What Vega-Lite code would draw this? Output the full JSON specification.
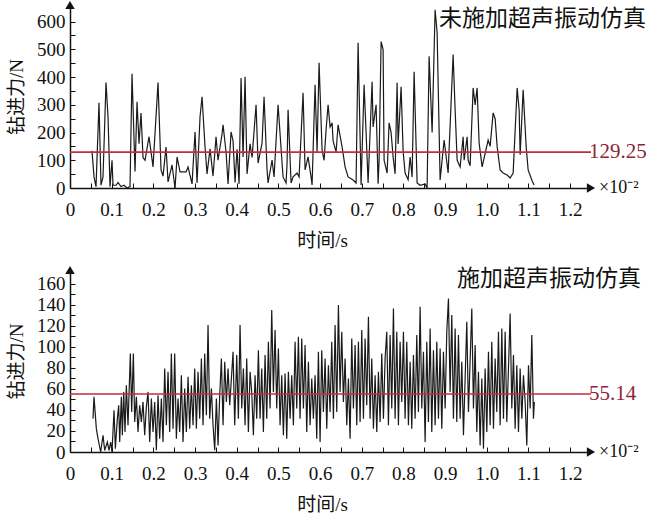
{
  "$schema": "https://vega.github.io/schema/vega-lite/v6.json",
  "padding": {"left": 7, "top": 0, "right": 0, "bottom": 0},
  "spacing": 15,
  "config": {
    "font": "Liberation Serif",
    "view": {"stroke": null},
    "axis": {
      "labelFont": "Liberation Serif, Times New Roman, serif",
      "titleFont": "Liberation Serif, Noto Sans CJK SC",
      "labelFontSize": 19,
      "titleFontSize": 19,
      "titleFontWeight": "normal",
      "labelColor": "#111",
      "titleColor": "#111",
      "domainColor": "#111",
      "tickColor": "#111",
      "domainWidth": 1.5,
      "tickWidth": 1,
      "tickSize": -5,
      "labelOverlap": false,
      "labelFlush": false,
      "grid": false
    },
    "axisX": {"labelPadding": 17, "titlePadding": 12},
    "axisY": {"labelPadding": 10, "titlePadding": 10}
  },
  "datasets": {
    "one": [{"t": 0, "f": 0}],
    "top": [
      {"t":0.0528,"f":134},{"t":0.0576,"f":40},{"t":0.0624,"f":5},{"t":0.0696,"f":307},{"t":0.0744,"f":10},{"t":0.0792,"f":40},{"t":0.0864,"f":380},{"t":0.0912,"f":257},{"t":0.096,"f":5},{"t":0.1008,"f":100},{"t":0.1032,"f":10},{"t":0.1104,"f":10},{"t":0.1152,"f":20},{"t":0.1224,"f":5},{"t":0.1296,"f":10},{"t":0.1368,"f":0},{"t":0.144,"f":5},{"t":0.1488,"f":412},{"t":0.156,"f":60},{"t":0.1608,"f":311},{"t":0.1656,"f":160},{"t":0.1704,"f":270},{"t":0.1752,"f":110},{"t":0.18,"f":100},{"t":0.1896,"f":185},{"t":0.1992,"f":76},{"t":0.2112,"f":380},{"t":0.2184,"f":65},{"t":0.2232,"f":43},{"t":0.2304,"f":148},{"t":0.2352,"f":22},{"t":0.2448,"f":83},{"t":0.252,"f":0},{"t":0.2568,"f":112},{"t":0.264,"f":58},{"t":0.2784,"f":58},{"t":0.2832,"f":76},{"t":0.2928,"f":15},{"t":0.3,"f":202},{"t":0.3048,"f":18},{"t":0.312,"f":257},{"t":0.3168,"f":329},{"t":0.324,"f":148},{"t":0.3288,"f":51},{"t":0.336,"f":141},{"t":0.3432,"f":43},{"t":0.3504,"f":185},{"t":0.3552,"f":100},{"t":0.3648,"f":195},{"t":0.3672,"f":228},{"t":0.3744,"f":130},{"t":0.3792,"f":15},{"t":0.3864,"f":202},{"t":0.3912,"f":170},{"t":0.396,"f":20},{"t":0.4008,"f":140},{"t":0.4056,"f":15},{"t":0.4104,"f":397},{"t":0.4152,"f":112},{"t":0.42,"f":401},{"t":0.4248,"f":51},{"t":0.432,"f":159},{"t":0.4368,"f":110},{"t":0.4464,"f":300},{"t":0.4512,"f":90},{"t":0.4608,"f":162},{"t":0.4656,"f":329},{"t":0.4728,"f":65},{"t":0.4752,"f":18},{"t":0.4848,"f":101},{"t":0.4896,"f":40},{"t":0.4992,"f":300},{"t":0.5088,"f":90},{"t":0.5112,"f":40},{"t":0.5184,"f":18},{"t":0.5208,"f":90},{"t":0.5232,"f":282},{"t":0.5304,"f":18},{"t":0.5352,"f":40},{"t":0.5448,"f":54},{"t":0.5496,"f":40},{"t":0.5592,"f":343},{"t":0.564,"f":65},{"t":0.5712,"f":112},{"t":0.5784,"f":40},{"t":0.5808,"f":11},{"t":0.588,"f":372},{"t":0.5928,"f":130},{"t":0.5976,"f":452},{"t":0.6048,"f":137},{"t":0.6096,"f":100},{"t":0.6144,"f":210},{"t":0.6192,"f":300},{"t":0.624,"f":220},{"t":0.6288,"f":235},{"t":0.6312,"f":170},{"t":0.6384,"f":130},{"t":0.6432,"f":228},{"t":0.6528,"f":148},{"t":0.66,"f":76},{"t":0.6672,"f":40},{"t":0.6792,"f":29},{"t":0.6864,"f":18},{"t":0.6912,"f":524},{"t":0.6984,"f":11},{"t":0.7056,"f":372},{"t":0.7104,"f":199},{"t":0.7152,"f":18},{"t":0.7248,"f":383},{"t":0.7272,"f":220},{"t":0.7344,"f":300},{"t":0.7392,"f":15},{"t":0.7416,"f":100},{"t":0.7464,"f":528},{"t":0.7512,"f":499},{"t":0.7536,"f":100},{"t":0.7608,"f":54},{"t":0.7656,"f":235},{"t":0.7704,"f":200},{"t":0.7752,"f":112},{"t":0.78,"f":51},{"t":0.7848,"f":380},{"t":0.7872,"f":159},{"t":0.7944,"f":365},{"t":0.7992,"f":133},{"t":0.804,"f":54},{"t":0.8112,"f":30},{"t":0.816,"f":112},{"t":0.8208,"f":40},{"t":0.8256,"f":419},{"t":0.8328,"f":18},{"t":0.84,"f":10},{"t":0.852,"f":15},{"t":0.8568,"f":0},{"t":0.8616,"f":475},{"t":0.8688,"f":200},{"t":0.876,"f":643},{"t":0.8808,"f":560},{"t":0.888,"f":29},{"t":0.8976,"f":173},{"t":0.9072,"f":54},{"t":0.9192,"f":481},{"t":0.924,"f":282},{"t":0.9288,"f":101},{"t":0.936,"f":76},{"t":0.9432,"f":185},{"t":0.9456,"f":100},{"t":0.9528,"f":185},{"t":0.9552,"f":100},{"t":0.96,"f":80},{"t":0.9672,"f":361},{"t":0.972,"f":300},{"t":0.9768,"f":361},{"t":0.9816,"f":162},{"t":0.9888,"f":76},{"t":1.0032,"f":173},{"t":1.008,"f":150},{"t":1.0152,"f":271},{"t":1.02,"f":250},{"t":1.0248,"f":150},{"t":1.032,"f":65},{"t":1.0392,"f":54},{"t":1.0488,"f":47},{"t":1.056,"f":36},{"t":1.0632,"f":54},{"t":1.0728,"f":361},{"t":1.0776,"f":282},{"t":1.08,"f":120},{"t":1.0872,"f":354},{"t":1.0944,"f":150},{"t":1.0992,"f":65},{"t":1.1088,"f":25},{"t":1.1136,"f":11}
    ],
    "bot": [
      {"t":0.0552,"f":31.7},{"t":0.0576,"f":52.4},{"t":0.0632,"f":22.2},{"t":0.0672,"f":12.7},{"t":0.0736,"f":0},{"t":0.0792,"f":15.9},{"t":0.0832,"f":1.6},{"t":0.0896,"f":9.5},{"t":0.0936,"f":1.6},{"t":0.0976,"f":9.5},{"t":0.1008,"f":0},{"t":0.1056,"f":39.7},{"t":0.1088,"f":3.2},{"t":0.1136,"f":31.7},{"t":0.1168,"f":44.4},{"t":0.1192,"f":9.5},{"t":0.1232,"f":52.4},{"t":0.1256,"f":15.9},{"t":0.1288,"f":57.1},{"t":0.132,"f":19},{"t":0.1352,"f":63.5},{"t":0.1392,"f":25.4},{"t":0.1448,"f":93.7},{"t":0.148,"f":38.1},{"t":0.152,"f":93.7},{"t":0.1552,"f":28.6},{"t":0.1592,"f":52.4},{"t":0.1632,"f":19},{"t":0.1672,"f":44.4},{"t":0.1712,"f":28.6},{"t":0.1752,"f":47.6},{"t":0.1792,"f":15.9},{"t":0.1832,"f":42.9},{"t":0.1872,"f":57.1},{"t":0.1912,"f":9.5},{"t":0.1952,"f":50.8},{"t":0.1992,"f":19},{"t":0.2032,"f":47.6},{"t":0.2072,"f":1.6},{"t":0.2112,"f":54},{"t":0.2152,"f":12.7},{"t":0.2192,"f":50.8},{"t":0.2232,"f":9.5},{"t":0.2272,"f":79.4},{"t":0.2312,"f":25.4},{"t":0.2352,"f":76.2},{"t":0.2392,"f":19},{"t":0.2432,"f":93.7},{"t":0.2472,"f":22.2},{"t":0.2512,"f":93.7},{"t":0.2552,"f":12.7},{"t":0.2592,"f":50.8},{"t":0.2632,"f":19},{"t":0.2672,"f":73},{"t":0.2712,"f":9.5},{"t":0.2752,"f":60.3},{"t":0.2792,"f":19},{"t":0.2832,"f":71.4},{"t":0.2872,"f":22.2},{"t":0.2912,"f":63.5},{"t":0.2952,"f":25.4},{"t":0.2992,"f":79.4},{"t":0.3032,"f":22.2},{"t":0.3072,"f":76.2},{"t":0.3112,"f":31.7},{"t":0.3152,"f":88.9},{"t":0.3192,"f":25.4},{"t":0.3232,"f":93.7},{"t":0.3272,"f":34.9},{"t":0.3312,"f":120.6},{"t":0.3352,"f":31.7},{"t":0.3392,"f":60.3},{"t":0.3432,"f":25.4},{"t":0.3472,"f":1.6},{"t":0.3512,"f":50.8},{"t":0.3552,"f":6.3},{"t":0.3592,"f":54},{"t":0.3632,"f":88.9},{"t":0.3672,"f":25.4},{"t":0.3712,"f":85.7},{"t":0.3752,"f":47.6},{"t":0.3792,"f":79.4},{"t":0.3832,"f":44.4},{"t":0.3912,"f":95.2},{"t":0.3952,"f":25.4},
      {"t":0.4,"f":92.1},{"t":0.404,"f":31.7},{"t":0.408,"f":120.6},{"t":0.412,"f":41.3},{"t":0.416,"f":79.4},{"t":0.42,"f":25.4},{"t":0.424,"f":88.9},{"t":0.428,"f":19},{"t":0.432,"f":76.2},{"t":0.436,"f":57.1},{"t":0.44,"f":15.9},{"t":0.444,"f":73},{"t":0.448,"f":31.7},{"t":0.452,"f":96.8},{"t":0.456,"f":31.7},{"t":0.46,"f":79.4},{"t":0.464,"f":19},{"t":0.468,"f":92.1},{"t":0.472,"f":31.7},{"t":0.476,"f":104.8},{"t":0.48,"f":41.3},{"t":0.484,"f":134.9},{"t":0.488,"f":57.1},{"t":0.492,"f":115.9},{"t":0.496,"f":41.3},{"t":0.5,"f":98.4},{"t":0.504,"f":25.4},{"t":0.508,"f":73},{"t":0.512,"f":15.9},{"t":0.516,"f":74.6},{"t":0.52,"f":12.7},{"t":0.524,"f":76.2},{"t":0.528,"f":31.7},{"t":0.532,"f":73},{"t":0.536,"f":25.4},{"t":0.54,"f":104.8},{"t":0.544,"f":41.3},{"t":0.548,"f":109.5},{"t":0.552,"f":31.7},{"t":0.556,"f":107.9},{"t":0.56,"f":41.3},{"t":0.564,"f":101.6},{"t":0.568,"f":19},{"t":0.572,"f":85.7},{"t":0.576,"f":25.4},{"t":0.58,"f":69.8},{"t":0.584,"f":31.7},{"t":0.588,"f":73},{"t":0.592,"f":12.7},{"t":0.596,"f":95.2},{"t":0.6,"f":9.5},{"t":0.604,"f":96.8},{"t":0.608,"f":38.1},{"t":0.612,"f":88.9},{"t":0.616,"f":22.2},{"t":0.62,"f":82.5},{"t":0.624,"f":38.1},{"t":0.628,"f":104.8},{"t":0.632,"f":31.7},{"t":0.636,"f":120.6},{"t":0.64,"f":38.1},{"t":0.644,"f":139.7},{"t":0.648,"f":57.1},{"t":0.652,"f":114.3},{"t":0.656,"f":47.6},{"t":0.66,"f":88.9},{"t":0.664,"f":25.4},{"t":0.668,"f":69.8},{"t":0.672,"f":12.7},{"t":0.676,"f":107.9},{"t":0.68,"f":41.3},{"t":0.684,"f":101.6},{"t":0.688,"f":25.4},{"t":0.692,"f":104.8},{"t":0.696,"f":28.6},{"t":0.7,"f":115.9},{"t":0.704,"f":31.7},{"t":0.708,"f":107.9},{"t":0.712,"f":44.4},{"t":0.716,"f":128.6},{"t":0.72,"f":31.7},{"t":0.724,"f":88.9},{"t":0.728,"f":22.2},{"t":0.732,"f":73},{"t":0.736,"f":19},{"t":0.74,"f":76.2},{"t":0.744,"f":28.6},{"t":0.748,"f":93.7},{"t":0.752,"f":31.7},
      {"t":0.756,"f":88.9},{"t":0.76,"f":114.3},{"t":0.764,"f":25.4},{"t":0.768,"f":111.1},{"t":0.772,"f":41.3},{"t":0.776,"f":136.5},{"t":0.78,"f":31.7},{"t":0.784,"f":114.3},{"t":0.788,"f":25.4},{"t":0.792,"f":104.8},{"t":0.796,"f":47.6},{"t":0.8,"f":114.3},{"t":0.804,"f":31.7},{"t":0.808,"f":104.8},{"t":0.812,"f":25.4},{"t":0.816,"f":85.7},{"t":0.82,"f":22.2},{"t":0.824,"f":92.1},{"t":0.828,"f":31.7},{"t":0.832,"f":111.1},{"t":0.836,"f":38.1},{"t":0.84,"f":138},{"t":0.844,"f":41.3},{"t":0.848,"f":95.2},{"t":0.852,"f":9.5},{"t":0.856,"f":104.8},{"t":0.86,"f":28.6},{"t":0.864,"f":117.5},{"t":0.868,"f":19},{"t":0.872,"f":96.8},{"t":0.876,"f":25.4},{"t":0.88,"f":104.8},{"t":0.884,"f":31.7},{"t":0.888,"f":98.4},{"t":0.892,"f":22.2},{"t":0.896,"f":95.2},{"t":0.9,"f":41.3},{"t":0.904,"f":114.3},{"t":0.908,"f":146},{"t":0.912,"f":57.1},{"t":0.916,"f":130.2},{"t":0.92,"f":31.7},{"t":0.924,"f":117.5},{"t":0.928,"f":28.6},{"t":0.932,"f":111.1},{"t":0.936,"f":31.7},{"t":0.94,"f":85.7},{"t":0.944,"f":15.9},{"t":0.952,"f":123.8},{"t":0.956,"f":38.1},{"t":0.964,"f":136.5},{"t":0.968,"f":41.3},{"t":0.972,"f":101.6},{"t":0.976,"f":19},{"t":0.98,"f":76.2},{"t":0.984,"f":6.3},{"t":0.988,"f":69.8},{"t":0.992,"f":3.2},{"t":0.996,"f":79.4},{"t":1.0,"f":19},{"t":1.004,"f":95.2},{"t":1.008,"f":25.4},{"t":1.012,"f":104.8},{"t":1.016,"f":22.2},{"t":1.02,"f":88.9},{"t":1.024,"f":38.1},{"t":1.028,"f":114.3},{"t":1.032,"f":25.4},{"t":1.036,"f":117.5},{"t":1.04,"f":31.7},{"t":1.044,"f":114.3},{"t":1.048,"f":28.6},{"t":1.056,"f":131.7},{"t":1.06,"f":41.3},{"t":1.064,"f":92.1},{"t":1.068,"f":22.2},{"t":1.072,"f":82.5},{"t":1.076,"f":19},{"t":1.08,"f":79.4},{"t":1.084,"f":31.7},{"t":1.088,"f":73},{"t":1.092,"f":47.6},{"t":1.096,"f":6.3},{"t":1.1,"f":82.5},{"t":1.104,"f":41.3},{"t":1.108,"f":111.1},{"t":1.112,"f":31.7},{"t":1.114,"f":47.6}
    ]
  },
  "vconcat": [
    {
      "width": 521,
      "height": 183,
      "encoding": {
        "x": {"field": "t", "type": "quantitative", "scale": {"domain": [0, 1.25], "nice": false, "zero": false},
          "axis": {"title": "时间/s", "titleX": 252, "values": [0,0.05,0.1,0.15,0.2,0.25,0.3,0.35,0.4,0.45,0.5,0.55,0.6,0.65,0.7,0.75,0.8,0.85,0.9,0.95,1.0,1.05,1.1,1.15,1.2],
            "labelExpr": "datum.value == 0 ? '0' : (round(datum.value*100) % 10 == 0 ? format(datum.value, '.1f') : '')"}},
        "y": {"field": "f", "type": "quantitative", "scale": {"domain": [0, 660], "nice": false},
          "axis": {"title": "钻进力/N", "values": [0,50,100,150,200,250,300,350,400,450,500,550,600],
            "labelExpr": "datum.value % 100 == 0 ? format(datum.value, 'd') : ''"}}
      },
      "layer": [
        {"data": {"name": "top"}, "mark": {"type": "line", "color": "#1a1a1a", "strokeWidth": 1.2, "interpolate": "linear"}},
        {"data": {"name": "one"}, "mark": {"type": "rule", "color": "#c62a3f", "strokeWidth": 1.6},
          "encoding": {"x": {"datum": 0}, "x2": {"datum": 1.25}, "y": {"datum": 129.25}}},
        {"data": {"name": "one"}, "mark": {"type": "text", "align": "left", "baseline": "middle", "dx": -2, "fontSize": 21, "color": "#8e2438", "font": "Liberation Serif, Times New Roman, serif", "text": "129.25"},
          "encoding": {"x": {"datum": 1.25}, "y": {"datum": 129.25}}},
        {"data": {"name": "one"}, "mark": {"type": "text", "align": "left", "baseline": "middle", "dx": 8, "fontSize": 18, "color": "#111", "font": "Liberation Serif, Times New Roman, serif", "text": "×10⁻²"},
          "encoding": {"x": {"datum": 1.25}, "y": {"datum": 0}}},
        {"data": {"name": "one"}, "mark": {"type": "text", "align": "right", "baseline": "middle", "dx": 55, "fontSize": 23, "color": "#111", "font": "Noto Sans CJK SC", "text": "未施加超声振动仿真"},
          "encoding": {"x": {"datum": 1.25}, "y": {"datum": 608}}},
        {"data": {"name": "one"}, "mark": {"type": "point", "shape": "triangle-right", "filled": true, "color": "#111", "size": 90, "opacity": 1},
          "encoding": {"x": {"datum": 1.25}, "y": {"datum": 0}}},
        {"data": {"name": "one"}, "mark": {"type": "point", "shape": "triangle-up", "filled": true, "color": "#111", "size": 90, "opacity": 1},
          "encoding": {"x": {"datum": 0}, "y": {"datum": 660}}}
      ]
    },
    {
      "width": 521,
      "height": 182,
      "encoding": {
        "x": {"field": "t", "type": "quantitative", "scale": {"domain": [0, 1.25], "nice": false, "zero": false},
          "axis": {"title": "时间/s", "titleX": 252, "values": [0,0.05,0.1,0.15,0.2,0.25,0.3,0.35,0.4,0.45,0.5,0.55,0.6,0.65,0.7,0.75,0.8,0.85,0.9,0.95,1.0,1.05,1.1,1.15,1.2],
            "labelExpr": "datum.value == 0 ? '0' : (round(datum.value*100) % 10 == 0 ? format(datum.value, '.1f') : '')"}},
        "y": {"field": "f", "type": "quantitative", "scale": {"domain": [0, 173], "nice": false},
          "axis": {"title": "钻进力/N", "values": [0,10,20,30,40,50,60,70,80,90,100,110,120,130,140,150,160],
            "labelExpr": "datum.value % 20 == 0 ? format(datum.value, 'd') : ''"}}
      },
      "layer": [
        {"data": {"name": "bot"}, "mark": {"type": "line", "color": "#1a1a1a", "strokeWidth": 1.2, "interpolate": "linear"}},
        {"data": {"name": "one"}, "mark": {"type": "rule", "color": "#c62a3f", "strokeWidth": 1.6},
          "encoding": {"x": {"datum": 0}, "x2": {"datum": 1.25}, "y": {"datum": 55.14}}},
        {"data": {"name": "one"}, "mark": {"type": "text", "align": "left", "baseline": "middle", "dx": -2, "fontSize": 21, "color": "#8e2438", "font": "Liberation Serif, Times New Roman, serif", "text": "55.14"},
          "encoding": {"x": {"datum": 1.25}, "y": {"datum": 55.14}}},
        {"data": {"name": "one"}, "mark": {"type": "text", "align": "left", "baseline": "middle", "dx": 8, "fontSize": 18, "color": "#111", "font": "Liberation Serif, Times New Roman, serif", "text": "×10⁻²"},
          "encoding": {"x": {"datum": 1.25}, "y": {"datum": 0}}},
        {"data": {"name": "one"}, "mark": {"type": "text", "align": "right", "baseline": "middle", "dx": 50, "fontSize": 23, "color": "#111", "font": "Noto Sans CJK SC", "text": "施加超声振动仿真"},
          "encoding": {"x": {"datum": 1.25}, "y": {"datum": 164}}},
        {"data": {"name": "one"}, "mark": {"type": "point", "shape": "triangle-right", "filled": true, "color": "#111", "size": 90, "opacity": 1},
          "encoding": {"x": {"datum": 1.25}, "y": {"datum": 0}}},
        {"data": {"name": "one"}, "mark": {"type": "point", "shape": "triangle-up", "filled": true, "color": "#111", "size": 90, "opacity": 1},
          "encoding": {"x": {"datum": 0}, "y": {"datum": 173}}}
      ]
    }
  ]
}
